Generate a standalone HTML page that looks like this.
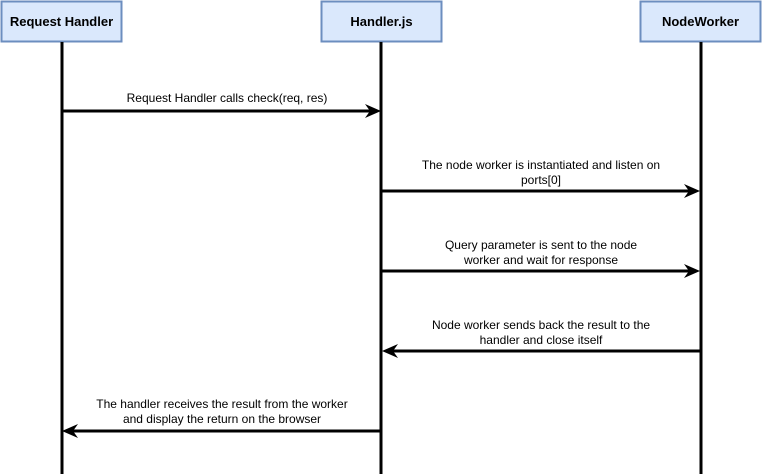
<!DOCTYPE html>
<html><head><style>
body{margin:0;background:#fff;}
svg{display:block;font-family:"Liberation Sans",Arial,sans-serif;}
</style></head><body>
<svg width="762" height="474" viewBox="0 0 762 474" xmlns="http://www.w3.org/2000/svg">
<g fill="#dae8fc" stroke="#6c8ebf" stroke-width="2">
<rect x="1.5" y="1.5" width="120" height="40"/>
<rect x="321.5" y="1.5" width="120" height="40"/>
<rect x="640.5" y="1.5" width="120" height="40"/>
</g>
<g font-size="13" font-weight="bold" text-anchor="middle" fill="#000">
<text x="61.5" y="26">Request Handler</text>
<text x="381.5" y="26">Handler.js</text>
<text x="700.5" y="26">NodeWorker</text>
</g>
<g stroke="#000" stroke-width="3">
<line x1="62" y1="42" x2="62" y2="474"/>
<line x1="381" y1="42" x2="381" y2="474"/>
<line x1="701" y1="42" x2="701" y2="474"/>
<line x1="62" y1="111" x2="372" y2="111"/>
<line x1="381" y1="191" x2="692" y2="191"/>
<line x1="381" y1="271" x2="692" y2="271"/>
<line x1="701" y1="351" x2="390" y2="351"/>
<line x1="381" y1="431" x2="71" y2="431"/>
</g>
<g fill="#000">
<path d="M381 111 L365 104 L370 111 L365 118 Z"/>
<path d="M700 191 L684 184 L689 191 L684 198 Z"/>
<path d="M700 271 L684 264 L689 271 L684 278 Z"/>
<path d="M382 351 L398 344 L393 351 L398 358 Z"/>
<path d="M62 431 L78 424 L73 431 L78 438 Z"/>
</g>
<g font-size="12" text-anchor="middle" fill="#000">
<text x="227" y="102">Request Handler calls check(req, res)</text>
<text x="541" y="169">The node worker is instantiated and listen on</text>
<text x="541" y="184">ports[0]</text>
<text x="541" y="249">Query parameter is sent to the node</text>
<text x="541" y="264">worker and wait for response</text>
<text x="541" y="329">Node worker sends back the result to the</text>
<text x="541" y="344">handler and close itself</text>
<text x="222" y="408">The handler receives the result from the worker</text>
<text x="222" y="423">and display the return on the browser</text>
</g>
</svg>
</body></html>
